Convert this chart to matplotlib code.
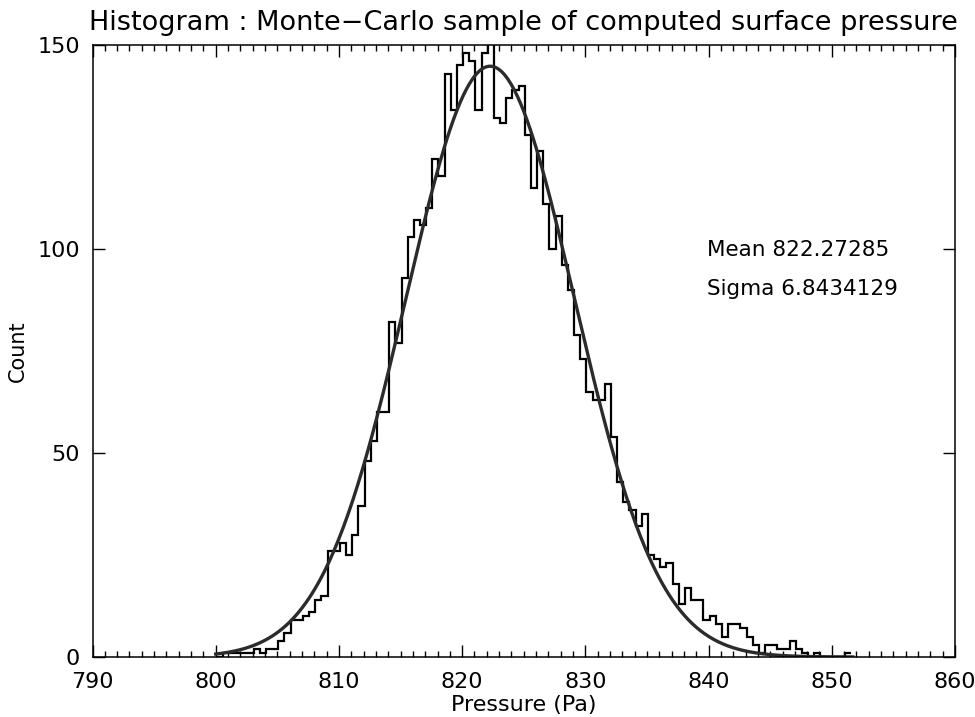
import numpy as np
import matplotlib
matplotlib.use('Agg')
import matplotlib.pyplot as plt
from matplotlib.ticker import MultipleLocator

# histogram of the Monte-Carlo sample: one count per 0.5 Pa bin
BIN_START = 800.08
BIN_WIDTH = 0.5
COUNTS = [0, 1, 1, 1, 1, 1, 2, 1, 2, 2,
          4, 6, 9, 9, 10, 11, 14, 15, 26, 26,
          28, 25, 30, 37, 48, 53, 60, 60, 82, 77,
          93, 103, 107, 106, 110, 122, 118, 143, 134, 145,
          148, 146, 134, 148, 153, 132, 131, 137, 139, 140,
          128, 115, 124, 111, 100, 108, 96, 90, 79, 73,
          65, 63, 63, 67, 54, 43, 38, 36, 32, 35,
          25, 24, 22, 23, 18, 13, 17, 14, 14, 9,
          10, 8, 5, 8, 8, 7, 5, 3, 1, 3,
          3, 2, 2, 4, 2, 1, 0, 1, 0, 0,
          0, 0, 1]

# gaussian fit printed on the chart
MEAN = 822.27285
SIGMA = 6.8434129
PEAK = 144.8
FIT_LO, FIT_HI = 800.0, 851.7

X_TICKS = [790, 800, 810, 820, 830, 840, 850, 860]
Y_TICKS = [0, 50, 100, 150]

plt.rcParams['font.family'] = ['DejaVu Sans']

fig = plt.figure(figsize=(9.75, 7.17), dpi=100)
ax = fig.add_axes([92.5/975, 60/717, 862.5/975, 612/717])

edges = BIN_START + BIN_WIDTH*np.arange(len(COUNTS) + 1)
ax.stairs(COUNTS, edges, color='black', linewidth=1.6, baseline=None)

xf = np.linspace(FIT_LO, FIT_HI, 400)
yf = PEAK*np.exp(-0.5*((xf - MEAN)/SIGMA)**2)
ax.plot(xf, yf, color='#2b2b2b', linewidth=2.4)

ax.set_xlim(790, 860)
ax.set_ylim(0, 150)
ax.set_xticks(X_TICKS)
ax.set_yticks(Y_TICKS)
ax.xaxis.set_minor_locator(MultipleLocator(1))
ax.tick_params(which='both', direction='in', top=True, right=True,
               colors='black', width=1.0)
ax.tick_params(which='major', length=8.5, labelsize=16)
ax.tick_params(axis='x', which='major', pad=11)
ax.tick_params(axis='y', which='major', pad=9)
ax.tick_params(which='minor', length=4.2)
for s in ax.spines.values():
    s.set_linewidth(1.1)

ax.set_xlabel('Pressure (Pa)', fontsize=16, labelpad=2)
ax.set_ylabel('Count', fontsize=15, labelpad=7)
ax.set_title('Histogram : Monte\u2212Carlo sample of computed surface pressure',
             fontsize=19.5, pad=11)

ax.text(0.7125, 0.665, 'Mean 822.27285', transform=ax.transAxes,
        fontsize=15.5, va='center', ha='left')
ax.text(0.7125, 0.601, 'Sigma 6.8434129', transform=ax.transAxes,
        fontsize=15.5, va='center', ha='left')

fig.savefig('out.png', dpi=100)
